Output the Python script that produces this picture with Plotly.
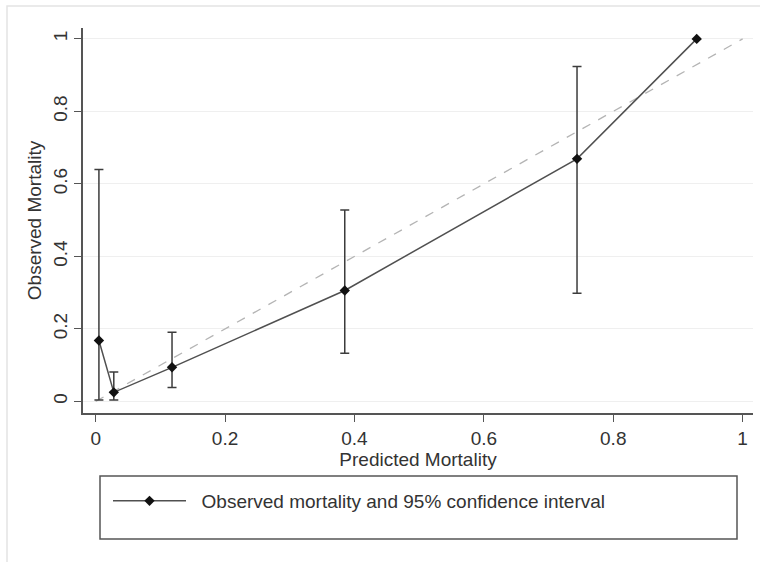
import plotly.graph_objects as go

# Data
predicted = [0.005, 0.028, 0.118, 0.385, 0.744, 0.929]
observed = [0.168, 0.025, 0.094, 0.306, 0.669, 1.0]
ci_upper = [0.640, 0.081, 0.191, 0.528, 0.924]
ci_lower = [0.004, 0.004, 0.038, 0.133, 0.298]
ref_x = [0, 1]
ref_y = [0, 1]
tick_vals = [0, 0.2, 0.4, 0.6, 0.8, 1]
tick_text = ["0", "0.2", "0.4", "0.6", "0.8", "1"]
series_name = "Observed mortality and 95% confidence interval"

FONT = "Liberation Sans, Arial, sans-serif"
TXT = "#333333"
AX = "#555555"

n_ci = len(ci_upper)
err_plus = [u - o for u, o in zip(ci_upper, observed[:n_ci])]
err_minus = [o - l for o, l in zip(observed[:n_ci], ci_lower)]

fig = go.Figure()
fig.add_trace(go.Scatter(
    x=ref_x, y=ref_y, mode="lines",
    line=dict(color="#b4b4b4", width=1.3, dash="dash"),
    showlegend=False, hoverinfo="skip"))
fig.add_trace(go.Scatter(
    x=predicted[:n_ci], y=observed[:n_ci], mode="markers",
    marker=dict(size=0.1, color="rgba(0,0,0,0)"),
    error_y=dict(type="data", symmetric=False, array=err_plus,
                 arrayminus=err_minus, color="#3c3c3c", thickness=1.5, width=4.5),
    showlegend=False, hoverinfo="skip"))
fig.add_trace(go.Scatter(
    x=predicted, y=observed, mode="lines+markers",
    line=dict(color="#505050", width=1.5),
    marker=dict(symbol="diamond", size=8, color="#111111"),
    name="\u00a0\u00a0" + series_name))

W, H = 760, 562
L, R, T, B = 83, 7, 28, 149
pw, ph = W - L - R, H - T - B

def px(x):
    return (x - L) / pw

def py(y):
    return (H - B - y) / ph

fig.update_layout(
    width=W, height=H,
    margin=dict(l=L, r=R, t=T, b=B, pad=0),
    paper_bgcolor="white", plot_bgcolor="white",
    font=dict(family=FONT, size=19, color=TXT),
    xaxis=dict(
        range=[-0.0196, 1.016], tickvals=tick_vals, ticktext=tick_text,
        showline=True, linecolor=AX, linewidth=1.5, mirror=False,
        ticks="outside", ticklen=7, tickwidth=1.3, tickcolor=AX,
        showgrid=False, zeroline=False,
        title=dict(text="Predicted Mortality", standoff=2, font=dict(size=19)),
    ),
    yaxis=dict(
        range=[-0.032, 1.030], tickvals=tick_vals, ticktext=tick_text,
        tickangle=-90,
        showline=True, linecolor=AX, linewidth=1.5, mirror=False,
        ticks="outside", ticklen=7, tickwidth=1.3, tickcolor=AX,
        showgrid=True, gridcolor="#efefef", gridwidth=1, zeroline=False,
        title=dict(text="Observed Mortality", standoff=3, font=dict(size=19)),
    ),
    legend=dict(
        x=px(108), y=py(501), xanchor="left", yanchor="middle",
        bgcolor="rgba(0,0,0,0)", borderwidth=0, itemwidth=73,
        font=dict(size=19, color=TXT),
    ),
    shapes=[
        dict(type="rect", xref="paper", yref="paper",
             x0=px(100), x1=px(737), y0=py(476), y1=py(539),
             line=dict(color="#555555", width=1.5)),
        dict(type="rect", xref="paper", yref="paper",
             x0=px(7), x1=px(W + 20), y0=py(6), y1=py(H + 20),
             line=dict(color="#e4e4e4", width=1.5)),
    ],
)

fig.write_html("out.html")
